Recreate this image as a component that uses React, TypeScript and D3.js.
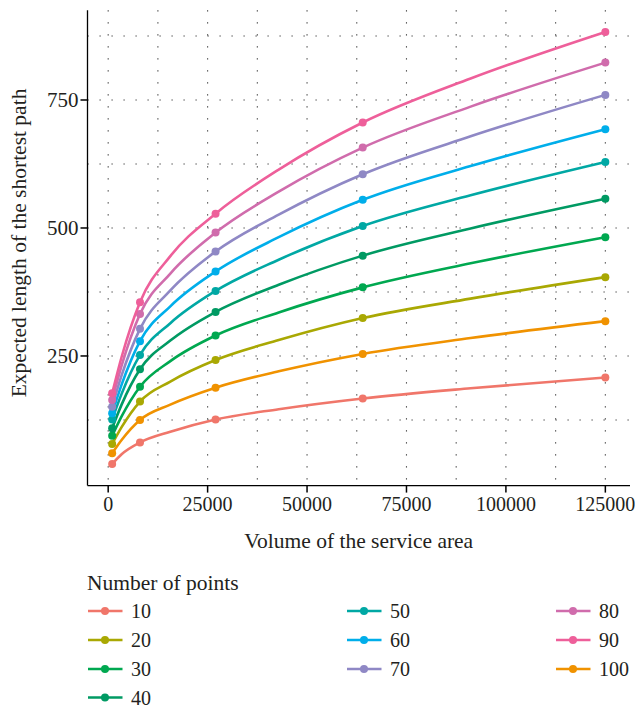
import React from 'react';
import * as d3 from 'd3';

// volume of the service area (k^3 for k = 10, 15, ..., 50)
const volumes = [1000, 3375, 8000, 15625, 27000, 42875, 64000, 91125, 125000];
const markerVolumes = [1000, 8000, 27000, 64000, 125000];

const pointCounts = ['10', '20', '30', '40', '50', '60', '70', '80', '90', '100'];

const s10 = [39, 58, 81, 102, 126, 146, 167, 187, 208];
const s20 = [78, 111, 161, 200, 242, 281, 324, 362, 404];
const s30 = [94, 132, 190, 240, 290, 335, 384, 431, 482];
const s40 = [109, 155, 224, 280, 336, 389, 446, 499, 557];
const s50 = [126, 176, 252, 314, 377, 438, 504, 564, 629];
const s60 = [138, 194, 279, 347, 415, 482, 555, 621, 693];
const s70 = [151, 212, 303, 378, 454, 526, 605, 679, 760];
const s80 = [164, 231, 332, 411, 491, 571, 657, 737, 823];
const s90 = [177, 248, 355, 445, 528, 614, 706, 792, 883];
const s100 = [60, 86, 125, 155, 188, 220, 254, 285, 318];

const seriesValues = [s10, s20, s30, s40, s50, s60, s70, s80, s90, s100];

const colors = [
  '#F0766A',
  '#A9A803',
  '#00A850',
  '#009A63',
  '#00A8A4',
  '#00AEEA',
  '#8F88C5',
  '#D06CAC',
  '#EE5F9A',
  '#F09200',
];

const xTicks = [0, 25000, 50000, 75000, 100000, 125000];
const xMinor = [12500, 37500, 62500, 87500, 112500];
const yTicks = [250, 500, 750];
const yMinor = [125, 375, 625, 875];

const FONT = '"Liberation Serif", "Times New Roman", serif';
const TEXT = '#231f20';

const App = () => {
  const width = 635;
  const height = 710;
  const left = 87.5;
  const right = 630;
  const top = 10.3;
  const bottom = 485.6;

  const x = d3.scaleLinear().domain([-5200, 131200]).range([left, right]);
  const y = d3.scaleLinear().domain([-3.2, 925.2]).range([bottom, top]);

  const line = d3
    .line<number>()
    .x((_, i) => x(volumes[i]))
    .y((d) => y(d))
    .curve(d3.curveMonotoneX);

  const gridStyle = { stroke: '#333', strokeWidth: 1.1, strokeDasharray: '1.2 10.8' };

  // legend layout: column-major, 4 rows
  const legendCols = [88, 347, 556];
  const legendRows = [611, 640, 669, 697.5];

  return (
    <svg width={width} height={height} style={{ position: 'absolute', left: 0, top: 0 }}>
      <rect width={width} height={height} fill="#fff" />

      {/* grid */}
      <g>
        {[...xTicks, ...xMinor].map((t) => (
          <line key={'gx' + t} x1={x(t)} x2={x(t)} y1={top} y2={bottom} {...gridStyle} />
        ))}
        {[...yTicks, ...yMinor].map((t) => (
          <line key={'gy' + t} x1={left} x2={right} y1={y(t)} y2={y(t)} {...gridStyle} />
        ))}
      </g>

      {/* series */}
      <g>
        {seriesValues.map((vals, si) => (
          <g key={pointCounts[si]}>
            <path
              d={line(vals) || ''}
              fill="none"
              stroke={colors[si]}
              strokeWidth={2.6}
              strokeLinejoin="round"
              strokeLinecap="round"
            />
            {vals.map((v, i) =>
              markerVolumes.includes(volumes[i]) ? (
                <circle key={i} cx={x(volumes[i])} cy={y(v)} r={4} fill={colors[si]} />
              ) : null
            )}
          </g>
        ))}
      </g>

      {/* axes */}
      <line x1={left} x2={left} y1={top} y2={bottom} stroke="#000" strokeWidth={1.3} />
      <line x1={left} x2={right} y1={bottom} y2={bottom} stroke="#000" strokeWidth={1.3} />

      {yTicks.map((t) => (
        <g key={'yt' + t}>
          <line x1={left - 7} x2={left} y1={y(t)} y2={y(t)} stroke="#000" strokeWidth={1.5} />
          <text
            x={left - 9}
            y={y(t)}
            dy="0.35em"
            textAnchor="end"
            fontFamily={FONT}
            fontSize={21}
            fill={TEXT}
          >
            {t}
          </text>
        </g>
      ))}

      {xTicks.map((t) => (
        <g key={'xt' + t}>
          <line x1={x(t)} x2={x(t)} y1={bottom} y2={bottom + 7} stroke="#000" strokeWidth={1.5} />
          <text
            x={x(t)}
            y={bottom + 18}
            dy="0.35em"
            textAnchor="middle"
            fontFamily={FONT}
            fontSize={20}
            fill={TEXT}
          >
            {t}
          </text>
        </g>
      ))}

      <text
        x={(left + right) / 2}
        y={540}
        dy="0.35em"
        textAnchor="middle"
        fontFamily={FONT}
        fontSize={21.5}
        fill={TEXT}
      >
        Volume of the service area
      </text>
      <text
        transform={`translate(18,${(top + bottom) / 2 - 5}) rotate(-90)`}
        dy="0.35em"
        textAnchor="middle"
        fontFamily={FONT}
        fontSize={21.5}
        fill={TEXT}
      >
        Expected length of the shortest path
      </text>

      {/* legend */}
      <text x={87} y={582} dy="0.35em" fontFamily={FONT} fontSize={21.5} fill={TEXT}>
        Number of points
      </text>
      {pointCounts.map((label, i) => {
        const col = i < 4 ? 0 : i < 7 ? 1 : 2;
        const row = i < 4 ? i : i < 7 ? i - 4 : i - 7;
        const lx = legendCols[col];
        const ly = legendRows[row];
        return (
          <g key={'lg' + label}>
            <line x1={lx} x2={lx + 34.5} y1={ly} y2={ly} stroke={colors[i]} strokeWidth={2.6} />
            <circle cx={lx + 17} cy={ly} r={4} fill={colors[i]} />
            <text x={lx + 43} y={ly} dy="0.35em" fontFamily={FONT} fontSize={20} fill={TEXT}>
              {label}
            </text>
          </g>
        );
      })}
    </svg>
  );
};

export default App;
